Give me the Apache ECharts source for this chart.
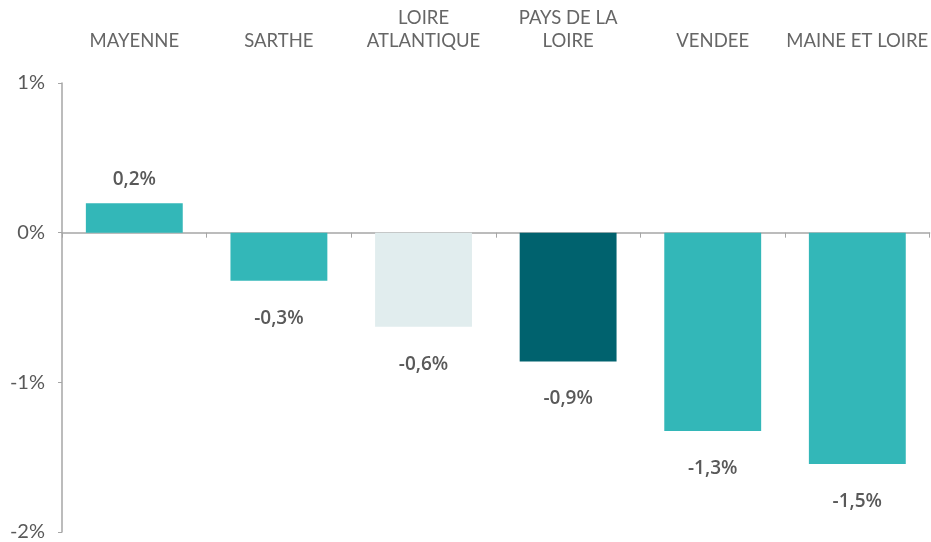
<!DOCTYPE html>
<html>
<head>
<meta charset="utf-8">
<script src="https://cdn.jsdelivr.net/npm/echarts@6/dist/echarts.min.js"></script>
<style>
  html, body { margin: 0; padding: 0; background: #fff; }
  #chart { width: 931px; height: 542px; }
</style>
</head>
<body>
<div id="chart"></div>
<script>
// données (variation en %)
var categories = ['MAYENNE', 'SARTHE', 'LOIRE\nATLANTIQUE', 'PAYS DE LA\nLOIRE', 'VENDEE', 'MAINE ET LOIRE'];
var values = [0.196, -0.322, -0.628, -0.86, -1.326, -1.545];
var yTicks = [-2, -1, 0, 1];

// couleurs
var TEAL = '#33b7b8';
var barColor = {
  'LOIRE\nATLANTIQUE': '#e1edee',
  'PAYS DE LA\nLOIRE': '#00626e'
};
var GREY_TXT = '#595959';
var AXIS = '#a6a6a6';

var chart = echarts.init(document.getElementById('chart'));

var seriesData = values.map(function (v) {
  return {
    value: v,
    label: v < 0 ? { position: 'bottom', distance: 28 } : { position: 'top', distance: 14 }
  };
});

var option = {
  animation: false,
  grid: { left: 62, right: -2, top: 83, bottom: 7 },
  xAxis: [{
    type: 'category',
    data: categories,
    position: 'top',
    axisLine: { show: false, onZero: false },
    axisTick: { show: false },
    axisLabel: {
      color: '#666666',
      fontFamily: 'Lato',
      fontSize: 18.5,
      lineHeight: 23,
      margin: 30,
      interval: 0
    }
  }, {
    type: 'category',
    data: categories,
    position: 'bottom',
    axisLine: { show: true, onZero: true, lineStyle: { color: AXIS, width: 1.5 } },
    axisTick: { show: true, length: 5, lineStyle: { color: AXIS } },
    axisLabel: { show: false }
  }],
  yAxis: {
    type: 'value',
    min: yTicks[0],
    max: yTicks[yTicks.length - 1],
    interval: 1,
    axisLine: { show: true, lineStyle: { color: AXIS, width: 1.5 } },
    axisTick: { show: true, length: 4, lineStyle: { color: AXIS } },
    splitLine: { show: false },
    axisLabel: {
      formatter: '{value}%',
      color: GREY_TXT,
      fontFamily: 'Lato',
      fontSize: 20,
      margin: 17
    }
  },
  series: [{
    type: 'bar',
    xAxisIndex: 0,
    data: seriesData,
    barWidth: '67%',
    itemStyle: {
      color: function (p) { return barColor[p.name] || TEAL; }
    },
    label: {
      show: true,
      color: GREY_TXT,
      fontFamily: 'Open Sans',
      fontWeight: 600,
      fontSize: 19,
      formatter: function (p) { return p.value.toFixed(1).replace('.', ',') + '%'; }
    }
  }]
};

chart.setOption(option);
</script>
</body>
</html>
